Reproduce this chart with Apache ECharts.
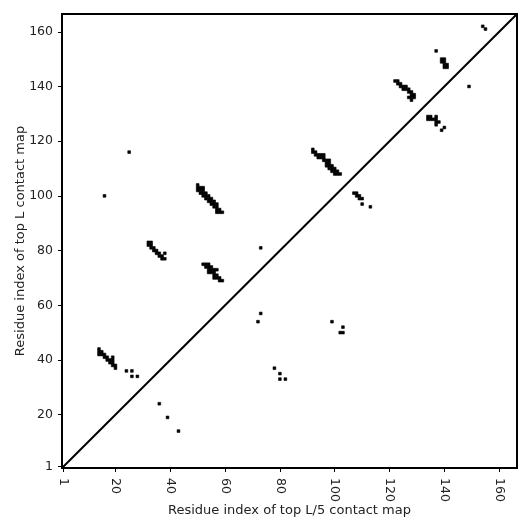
<!DOCTYPE html>
<html>
<head>
<meta charset="utf-8">
<script src="https://cdn.jsdelivr.net/npm/echarts@6/dist/echarts.min.js"></script>
<style>
  html, body { margin: 0; padding: 0; background: #fff; }
  #chart { width: 531px; height: 531px; }
</style>
</head>
<body>
<div id="chart"></div>
<script>
// tick labels shown on both axes
var tickValues = [1, 20, 40, 60, 80, 100, 120, 140, 160];

// contacts above the diagonal (residue i, residue j)
var upperCells = [
  [14, 44], [14, 43], [15, 43], [14, 42], [15, 42], [16, 42], [16, 41], [17, 41],
  [17, 40], [18, 40], [18, 39], [19, 39], [19, 40], [19, 41], [19, 38], [20, 38], [20, 37],
  [24, 36], [26, 36], [26, 34], [28, 34],
  [16, 100], [25, 116],
  [32, 83], [33, 83], [32, 82], [33, 82], [33, 81], [34, 81], [34, 80], [35, 80],
  [35, 79], [36, 79], [36, 78], [37, 78], [37, 77], [38, 77], [38, 79],
  [50, 104], [50, 103], [51, 103], [52, 103], [50, 102], [51, 102], [52, 102],
  [51, 101], [52, 101], [53, 101], [52, 100], [53, 100], [54, 100], [53, 99],
  [54, 99], [55, 99], [54, 98], [55, 98], [56, 98], [55, 97], [56, 97], [57, 97],
  [56, 96], [57, 96], [57, 95], [58, 95], [57, 94], [58, 94], [59, 94],
  [52, 75], [53, 75], [54, 75], [53, 74], [54, 74], [55, 74], [54, 73], [55, 73],
  [56, 73], [54, 72], [55, 72], [56, 72], [57, 73], [56, 71], [57, 71], [56, 70],
  [57, 70], [58, 70], [58, 69], [59, 69],
  [73, 81],
  [92, 117], [92, 116], [93, 116], [93, 115], [94, 115], [95, 115], [94, 114],
  [95, 114], [96, 114], [96, 115], [96, 113], [97, 113], [97, 112], [98, 113],
  [98, 112], [98, 111], [97, 111], [99, 111], [98, 110], [99, 110], [99, 109],
  [100, 109], [100, 110], [100, 108], [101, 108], [101, 109], [102, 108],
  [122, 142], [123, 142], [123, 141], [124, 141], [124, 140], [125, 140], [125, 139],
  [126, 139], [126, 140], [127, 139], [127, 138], [128, 138], [128, 137], [129, 137],
  [128, 136], [129, 136], [128, 135], [127, 136],
  [139, 150], [140, 150], [139, 149], [140, 149], [140, 148], [141, 148], [140, 147], [141, 147],
  [137, 153], [154, 162], [155, 161]
];

// contacts below the diagonal
var lowerCells = [
  [36, 24], [39, 19], [43, 14],
  [73, 57], [72, 54], [78, 37], [80, 35], [80, 33], [82, 33],
  [99, 54], [103, 52], [102, 50], [103, 50],
  [107, 101], [108, 101], [108, 100], [109, 100], [109, 99], [110, 99], [110, 97], [113, 96],
  [134, 129], [135, 129], [134, 128], [135, 128], [136, 128], [137, 129], [137, 128],
  [137, 127], [138, 127], [137, 126], [139, 124], [140, 125],
  [149, 140]
];

var diagLine = [[0.5, 0.5], [166.5, 166.5]];

function drawCell(params, api) {
  var p0 = api.coord([api.value(0) - 0.5, api.value(1) + 0.5]);
  var p1 = api.coord([api.value(0) + 0.5, api.value(1) - 0.5]);
  return {
    type: 'rect',
    shape: { x: p0[0], y: p0[1], width: p1[0] - p0[0], height: p1[1] - p0[1] },
    style: { fill: '#000', stroke: '#000', lineWidth: 0.6 }
  };
}

var axisFont = { color: '#222', fontFamily: 'DejaVu Sans', fontSize: 12.5 };
var nameFont = { color: '#222', fontFamily: 'DejaVu Sans', fontSize: 13 };

var chart = echarts.init(document.getElementById('chart'));
chart.setOption({
  animation: false,
  grid: {
    left: 62, top: 14, right: 14, bottom: 63,
    outerBoundsMode: 'none',
    show: true, borderColor: '#000', borderWidth: 2, backgroundColor: '#fff'
  },
  xAxis: {
    type: 'value', min: 0.5, max: 166.5,
    name: 'Residue index of top L/5 contact map',
    nameLocation: 'middle', nameGap: 36, nameMoveOverlap: false,
    nameTextStyle: nameFont,
    splitLine: { show: false },
    axisLine: { show: false },
    axisTick: { show: true, length: 4, lineStyle: { color: '#000' }, customValues: tickValues },
    axisLabel: Object.assign({ rotate: -90, margin: 10, customValues: tickValues }, axisFont)
  },
  yAxis: {
    type: 'value', min: 0.5, max: 166.5,
    name: 'Residue index of top L contact map',
    nameLocation: 'middle', nameGap: 35, nameMoveOverlap: false,
    nameTextStyle: nameFont,
    splitLine: { show: false },
    axisLine: { show: false },
    axisTick: { show: true, length: 4, lineStyle: { color: '#000' }, customValues: tickValues },
    axisLabel: Object.assign({ margin: 9, customValues: tickValues }, axisFont)
  },
  series: [
    {
      type: 'line', data: diagLine, symbol: 'none',
      lineStyle: { color: '#000', width: 2 }, z: 3
    },
    { type: 'custom', renderItem: drawCell, data: upperCells, z: 2 },
    { type: 'custom', renderItem: drawCell, data: lowerCells, z: 2 }
  ]
});
</script>
</body>
</html>
